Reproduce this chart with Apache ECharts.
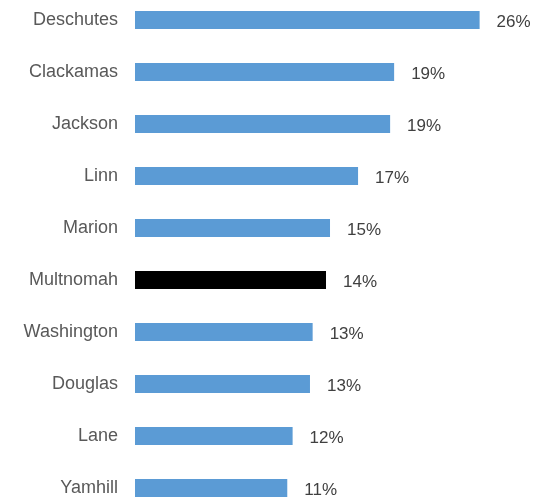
<!DOCTYPE html>
<html>
<head>
<meta charset="utf-8">
<script src="https://cdn.jsdelivr.net/npm/echarts@6/dist/echarts.min.js"></script>
<style>
  html, body { margin: 0; padding: 0; background: #fff; overflow: hidden; }
  #chart { width: 533px; height: 520px; position: absolute; left: 0; top: -6px; }
</style>
</head>
<body>
<div id="chart"></div>
<script>
const counties = ['Deschutes', 'Clackamas', 'Jackson', 'Linn', 'Marion', 'Multnomah', 'Washington', 'Douglas', 'Lane', 'Yamhill']
const shares = [25.8, 19.4, 19.1, 16.7, 14.6, 14.3, 13.3, 13.1, 11.8, 11.4]
const highlight = 'Multnomah'

const blue = '#5b9bd5'
const font = '"Liberation Sans", Arial, sans-serif'

let chart = echarts.init(document.getElementById('chart'))

let barData = shares.map((v, i) => ({
  value: v,
  itemStyle: { color: counties[i] === highlight ? '#000000' : blue }
}))

chart.setOption({
  animation: false,
  grid: {
    left: 135,
    width: 374,
    top: 0,
    height: 520,
    containLabel: false
  },
  xAxis: {
    type: 'value',
    min: 0,
    max: 28,
    show: false
  },
  yAxis: {
    type: 'category',
    inverse: true,
    data: counties,
    axisLine: { show: false },
    axisTick: { show: false },
    axisLabel: {
      margin: 17,
      color: '#595959',
      fontFamily: font,
      fontSize: 18
    }
  },
  series: [{
    type: 'bar',
    data: barData,
    barWidth: 18,
    label: {
      show: true,
      position: 'right',
      distance: 17,
      offset: [0, 2],
      color: '#404040',
      fontFamily: font,
      fontSize: 17,
      formatter: p => Math.round(p.value) + '%'
    }
  }]
})
</script>
</body>
</html>
